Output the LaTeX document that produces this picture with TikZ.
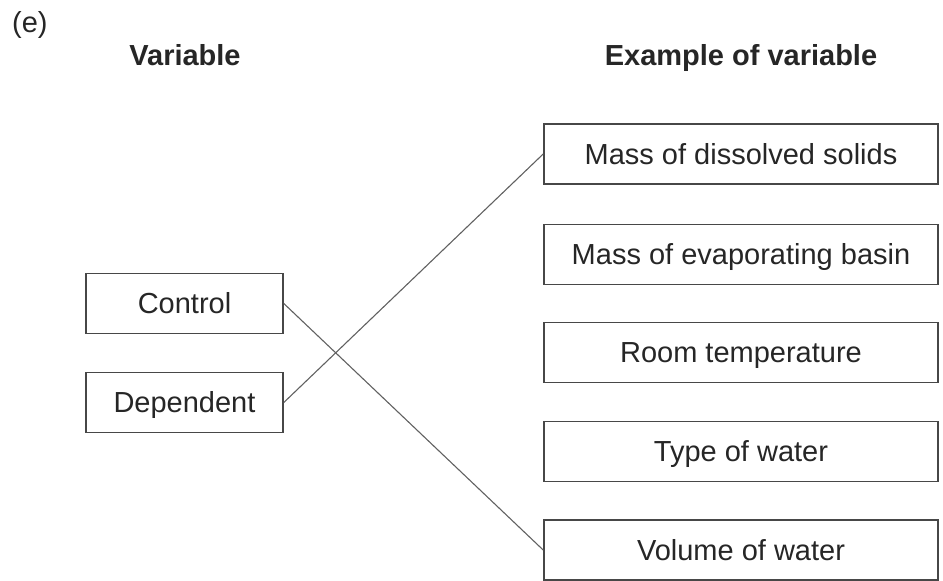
\documentclass[tikz,border=0pt]{standalone}
\usepackage{fontspec}
\setmainfont{Liberation Sans}

\begin{document}
\begin{tikzpicture}[x=1pt,y=-1pt,
  every node/.style={font=\fontsize{29}{34}\selectfont,text=black!85},
  heading/.style={font=\fontsize{29}{34}\selectfont\bfseries,inner sep=0pt,text height=20.8pt,text depth=0pt},
  varbox/.style={draw=black!72,line width=1.6pt,minimum width=#1,minimum height=60pt,inner sep=0pt,text height=20.8pt,text depth=0pt},
  link/.style={draw=black!62,line width=1.1pt}]
  \useasboundingbox (0,0) rectangle (943,581);
  \node[anchor=west,inner sep=0pt] (part) at (12,25) {(e)};
  \node[heading] (headL) at (185,55) {Variable}; \node[heading] (headR) at (741,55) {Example of variable};
  \node[varbox=197pt] (control) at (184.5,303.5) {Control}; \node[varbox=197pt] (dependent) at (184.5,402.5) {Dependent};
  \node[varbox=394pt] (solids) at (741,154) {Mass of dissolved solids};
  \node[varbox=394pt] (basin) at (741,254.5) {Mass of evaporating basin};
  \node[varbox=394pt] (room) at (741,352.5) {Room temperature};
  \node[varbox=394pt] (type) at (741,451.5) {Type of water};
  \node[varbox=394pt] (volume) at (741,550) {Volume of water};
  \draw[link] (control.east) -- (volume.west); \draw[link] (dependent.east) -- (solids.west);
\end{tikzpicture}
\end{document}
